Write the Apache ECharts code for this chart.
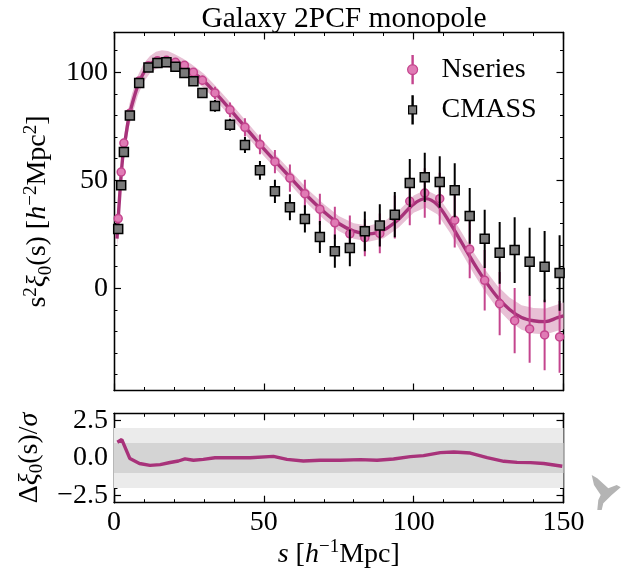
<!DOCTYPE html>
<html>
<head>
<meta charset="utf-8">
<script src="https://cdn.jsdelivr.net/npm/echarts@6/dist/echarts.min.js"></script>
<style>
  html, body { margin: 0; padding: 0; background: #fff; }
  #chart { width: 644px; height: 578px; }
</style>
</head>
<body>
<div id="chart"></div>
<script>
// bin centres, s in h^-1 Mpc
const sBins = [1.4, 2.4, 3.3, 5.3, 8.4, 11.5, 14.5, 17.5, 20.5, 23.5, 26.5, 29.5,
  33.7, 38.7, 43.7, 48.7, 53.7, 58.7, 63.7, 68.7, 73.7, 78.7, 83.7, 88.7, 93.7,
  98.7, 103.7, 108.7, 113.7, 118.7, 123.7, 128.7, 133.7, 138.7, 143.7, 148.7];

// s^2 xi_0 for the two samples, with 1-sigma errors
const nseries = [32.3, 53.8, 67.2, 81, 96, 103, 105.3, 105.5, 104.6, 103.2, 100, 96.3,
  90.4, 82.6, 74.5, 66.6, 58.6, 51.0, 43.8, 36.6, 30.3, 25.2, 23.4, 25.4, 33.0,
  40.3, 44.1, 41.5, 31.5, 18.1, 3.7, -7.1, -15.0, -18.8, -21.6, -22.5];
const nseriesErr = [1, 1, 1, 1, 1, 1, 1, 1, 1, 1.2, 1.6, 2.2,
  2.9, 3.4, 4.2, 4.6, 5.4, 6.3, 6.5, 7.2, 7.5, 8.5, 8.6, 9.2, 10,
  11.1, 11.5, 12, 12.6, 13.4, 14, 14.6, 15.1, 15.7, 16.3, 16.6];
const cmass = [27.4, 47.7, 63.1, 80.0, 95.0, 102.2, 104.3, 104.6, 102.5, 99.6, 95.8, 90.4,
  84.4, 75.7, 66.3, 54.6, 44.9, 37.5, 32.1, 23.7, 17.2, 18.7, 26.4, 29.1, 34.1,
  48.7, 51.4, 49.2, 45.4, 33.5, 22.9, 16.4, 17.7, 12.3, 10.0, 7.1];
const cmassErr = [1, 1, 1, 1, 1, 1, 1, 1, 1.1, 1.3, 1.5, 1.9,
  2.7, 2.8, 3.7, 4.3, 5.4, 6.0, 6.3, 7.4, 7.7, 8.5, 9.2, 9.8, 10.5,
  11.1, 11.4, 11.9, 12.5, 12.9, 13.5, 14.3, 15.2, 15.7, 16.5, 17.5];

// model curve and its band half-width
const modelS = [1, 2, 3, 4, 5, 6, 8, 10, 12, 14, 16, 18, 20, 23, 26, 30, 34, 38, 42, 46,
  50, 55, 60, 65, 70, 75, 80, 85, 90, 95, 100, 104, 108, 112, 116, 120, 124, 128,
  132, 136, 140, 144, 148, 150];
const modelXi = [23, 45, 62, 71, 79.5, 85, 94, 100, 103.5, 105.5, 106.2, 106, 105, 103,
  100.3, 96, 90.2, 84, 77.5, 71, 64.5, 57, 49.5, 42, 35.5, 30, 26.5, 25.2, 27, 32,
  39, 41.5, 38.5, 30.5, 21.2, 11.8, 3.2, -4.2, -9.8, -13.5, -15, -15.4, -13.6, -12.8];
const bandHalf = [5, 5, 5, 5, 5, 5, 4.6, 4.3, 4, 4, 4, 3.8, 3.6, 3.4, 3.3, 3.3, 3.3, 3.3,
  3.3, 3.3, 3.3, 3.3, 3.3, 3.4, 3.5, 3.5, 3.6, 3.7, 3.8, 3.9, 4, 4.1, 4.3, 4.5, 4.7,
  4.9, 5.1, 5.3, 5.5, 5.7, 5.9, 6.0, 6.1, 6.2];

// residual Delta xi_0 / sigma
const resS = [1.1, 2.6, 5.3, 8.5, 12.0, 15.4, 18.7, 21.5, 23.7, 26.5, 29.8, 33.7, 39.9,
  45.4, 53.2, 57.7, 63.2, 68.8, 75.5, 82.2, 87.8, 93.3, 98.9, 103.3, 108.9, 113.4,
  118.9, 124.5, 130.1, 134.5, 139.0, 143.4, 149.6];
const resV = [1.05, 1.23, -0.04, -0.37, -0.49, -0.44, -0.3, -0.2, -0.06, -0.15, -0.09,
  0.02, 0.02, 0.02, 0.11, -0.09, -0.2, -0.15, -0.15, -0.11, -0.15, -0.07, 0.09, 0.16,
  0.36, 0.4, 0.33, 0.02, -0.22, -0.29, -0.31, -0.37, -0.55];
const sigmaBands = [2, 1];

// ticks
const yTopMajor = [0, 50, 100];
const yTopMinor = [-40, -30, -20, -10, 10, 20, 30, 40, 60, 70, 80, 90, 110];
const yBotMajor = [-2.5, 0, 2.5];
const yBotMinor = [-2.5, -2, -1.5, -1, -0.5, 0.5, 1, 1.5, 2];

const SERIF = '"Liberation Serif", "DejaVu Serif", serif';
const LINE = '#a8327a';
const PINK = '#e07bb5';
const PINK_EDGE = '#c4458e';
const BAND = '#e8c0d5';

const rich = {
  t: { fontFamily: SERIF, fontSize: 28, lineHeight: 34, color: '#000' },
  it: { fontFamily: SERIF, fontStyle: 'italic', fontSize: 28, lineHeight: 34, color: '#000' },
  sup: { fontFamily: SERIF, fontSize: 19, lineHeight: 22, verticalAlign: 'top', color: '#000' },
  sub: { fontFamily: SERIF, fontSize: 19, lineHeight: 22, verticalAlign: 'bottom', color: '#000' }
};

function xFrame(grid, pos, labels, name) {
  return {
    type: 'value', gridIndex: grid, position: pos, min: 0, max: 150, interval: 50,
    axisLine: { show: true, onZero: false, lineStyle: { color: '#000', width: 1.3 } },
    axisTick: { show: true, inside: true, length: 7, lineStyle: { color: '#000', width: 1.2 } },
    minorTick: { show: true, splitNumber: 5, length: 3.5, lineStyle: { color: '#000', width: 1 } },
    axisLabel: { show: labels, margin: 6, fontFamily: SERIF, fontSize: 28, color: '#000' },
    splitLine: { show: false },
    name: name || '', nameLocation: 'middle', nameGap: 33,
    nameTextStyle: { rich: rich }
  };
}

function yFrame(grid, pos, lim, ticks, len, labels, fmt, name, gap) {
  return {
    type: 'value', gridIndex: grid, position: pos, min: lim[0], max: lim[1],
    axisLine: { show: true, onZero: false, lineStyle: { color: '#000', width: 1.3 } },
    axisTick: { show: true, inside: true, length: len, customValues: ticks,
      lineStyle: { color: '#000', width: len > 5 ? 1.2 : 1 } },
    axisLabel: { show: labels, customValues: ticks, margin: 6, formatter: fmt,
      fontFamily: SERIF, fontSize: 28, color: '#000' },
    splitLine: { show: false },
    name: name || '', nameLocation: 'middle', nameGap: gap || 0, nameRotate: 90,
    nameTextStyle: { rich: rich }
  };
}

const topLim = [-47.3, 118.4];
const botLim = [-2.98, 2.98];
const fmtTop = v => String(v);
const fmtBot = v => (v < 0 ? '\u2212' : '') + Math.abs(v).toFixed(1);

function errRender(color) {
  return function (params, api) {
    const x = api.value(0), y = api.value(1), e = api.value(2);
    const a = api.coord([x, y - e]), b = api.coord([x, y + e]);
    return { type: 'line', shape: { x1: a[0], y1: a[1], x2: b[0], y2: b[1] },
      style: { stroke: color, lineWidth: 2 } };
  };
}

const chart = echarts.init(document.getElementById('chart'), null, { renderer: 'canvas' });

chart.setOption({
  animation: false,
  backgroundColor: '#fff',
  title: {
    text: 'Galaxy 2PCF monopole', left: 339, textAlign: 'center', top: -1,
    textStyle: { fontFamily: SERIF, fontSize: 29.5, fontWeight: 'normal', color: '#000' }
  },
  legend: {
    orient: 'vertical', left: 402, top: 50, itemGap: 11, itemWidth: 48, itemHeight: 28,
    selectedMode: false,
    textStyle: { fontFamily: SERIF, fontSize: 28, lineHeight: 28, color: '#000' },
    data: [
      { name: 'Nseries',
        icon: 'path://M5.4,0h1.2v9.2h-1.2z M5.4,18.8h1.2v9.2h-1.2z M1,14a5,5 0 1,0 10,0a5,5 0 1,0 -10,0z',
        itemStyle: { color: PINK, borderColor: PINK_EDGE, borderWidth: 1.2 } },
      { name: 'CMASS',
        icon: 'path://M5.4,0h1.2v10h-1.2z M5.4,18h1.2v10h-1.2z M2,10h8v8h-8z',
        itemStyle: { color: '#7a7a7a', borderColor: '#000', borderWidth: 1.2 } }
    ]
  },
  grid: [
    { left: 114, top: 32.5, width: 449.5, height: 358 },
    { left: 114, top: 413.3, width: 449.5, height: 89.4 }
  ],
  xAxis: [
    xFrame(0, 'bottom', false),
    xFrame(0, 'top', false),
    xFrame(1, 'bottom', true, '{it|s}{t| [}{it|h}{sup|\u22121}{t|Mpc]}'),
    xFrame(1, 'top', false)
  ],
  yAxis: [
    yFrame(0, 'left', topLim, yTopMajor, 7, true, fmtTop,
      '{t|s}{sup|2}{it|\u03be}{sub|0}{t|(s) [}{it|h}{sup|\u22122}{t|Mpc}{sup|2}{t|]}', 49),
    yFrame(0, 'left', topLim, yTopMinor, 3.5, false),
    yFrame(0, 'right', topLim, yTopMajor, 7, false),
    yFrame(0, 'right', topLim, yTopMinor, 3.5, false),
    yFrame(1, 'left', botLim, yBotMajor, 7, true, fmtBot,
      '{t|\u0394}{it|\u03be}{sub|0}{t|(s)/}{it|\u03c3}', 57),
    yFrame(1, 'left', botLim, yBotMinor, 3.5, false),
    yFrame(1, 'right', botLim, yBotMajor, 7, false),
    yFrame(1, 'right', botLim, yBotMinor, 3.5, false)
  ],
  graphic: [{
    type: 'polygon', z: 100,
    shape: { points: [[591.7, 475], [597.3, 478.3], [608.3, 488.3], [616.7, 485], [620.7, 487.3],
      [611.7, 495], [603.3, 503.3], [601.7, 510], [597.3, 510], [598.3, 500], [600.7, 495], [594, 485]] },
    style: { fill: '#b4b4b4' }
  }],
  series: [
    {
      name: 'band', type: 'custom', xAxisIndex: 0, yAxisIndex: 0, clip: true, silent: true,
      data: [[modelS[0], modelXi[0]]],
      renderItem: function (params, api) {
        const up = modelS.map((s, i) => api.coord([s, modelXi[i] + bandHalf[i]]));
        const lo = modelS.map((s, i) => api.coord([s, modelXi[i] - bandHalf[i]])).reverse();
        return { type: 'polygon', shape: { points: up.concat(lo) }, style: { fill: BAND } };
      },
      z: 1
    },
    {
      name: 'model', type: 'line', xAxisIndex: 0, yAxisIndex: 0, smooth: 0.35,
      showSymbol: false, data: modelS.map((s, i) => [s, modelXi[i]]),
      lineStyle: { color: LINE, width: 3.4 }, z: 2
    },
    {
      name: 'Nseries err', type: 'custom', xAxisIndex: 0, yAxisIndex: 0, clip: true,
      data: sBins.map((s, i) => [s, nseries[i], nseriesErr[i]]),
      encode: { x: 0, y: 1 }, renderItem: errRender(PINK_EDGE), z: 3
    },
    {
      name: 'Nseries', type: 'scatter', xAxisIndex: 0, yAxisIndex: 0,
      data: sBins.map((s, i) => [s, nseries[i]]), symbol: 'circle', symbolSize: 8,
      itemStyle: { color: PINK, borderColor: PINK_EDGE, borderWidth: 1.5, opacity: 1 }, z: 4
    },
    {
      name: 'CMASS err', type: 'custom', xAxisIndex: 0, yAxisIndex: 0, clip: true,
      data: sBins.map((s, i) => [s, cmass[i], cmassErr[i]]),
      encode: { x: 0, y: 1 }, renderItem: errRender('#000'), z: 5
    },
    {
      name: 'CMASS', type: 'scatter', xAxisIndex: 0, yAxisIndex: 0,
      data: sBins.map((s, i) => [s, cmass[i]]), symbol: 'rect', symbolSize: 9,
      itemStyle: { color: '#7a7a7a', borderColor: '#000', borderWidth: 1.5, opacity: 1 }, z: 6
    },
    {
      name: 'residual', type: 'line', xAxisIndex: 2, yAxisIndex: 4, showSymbol: false,
      data: resS.map((s, i) => [s, resV[i]]),
      lineStyle: { color: LINE, width: 3.4 },
      markArea: {
        silent: true,
        data: [
          [{ yAxis: -sigmaBands[0], itemStyle: { color: '#ebebeb' } }, { yAxis: sigmaBands[0] }],
          [{ yAxis: -sigmaBands[1], itemStyle: { color: '#d4d4d4' } }, { yAxis: sigmaBands[1] }]
        ]
      },
      z: 3
    }
  ]
});
</script>
</body>
</html>
